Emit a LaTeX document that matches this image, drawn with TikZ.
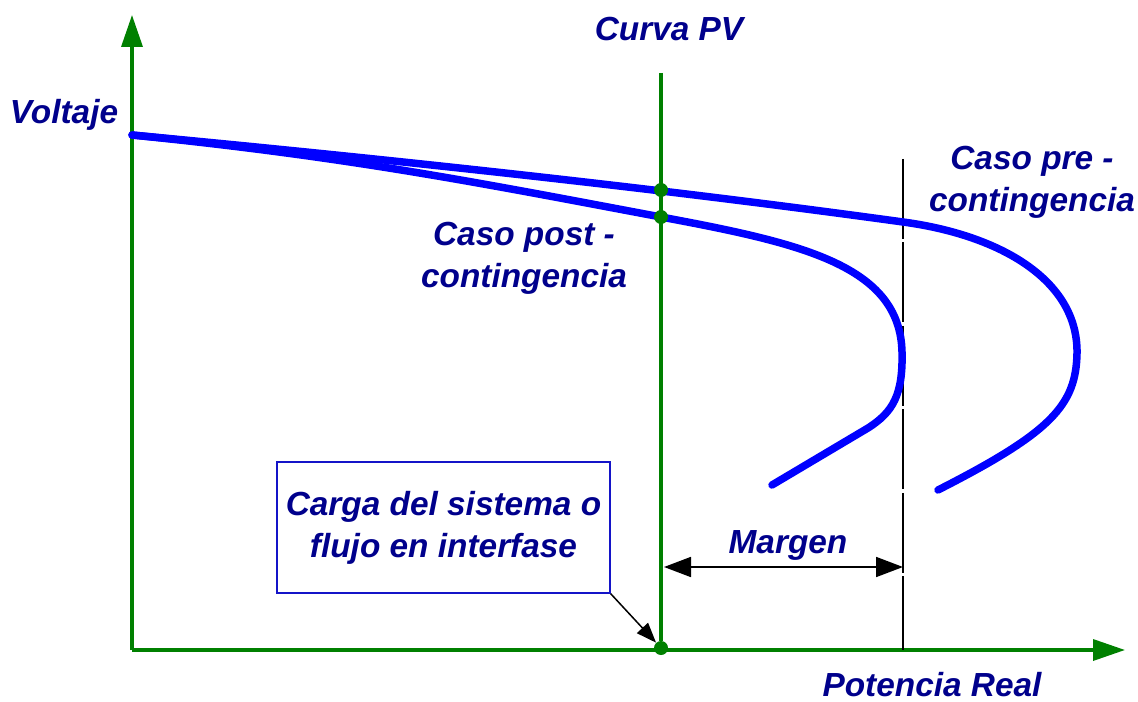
\documentclass[tikz,border=0pt]{standalone}
\usepackage{fontspec}
\setmainfont{Liberation Sans}
\usepackage{tikz}
\usetikzlibrary{arrows.meta}
\usetikzlibrary{positioning}
\definecolor{axisgreen}{RGB}{0,128,0}
\definecolor{curveblue}{RGB}{0,0,255}
\definecolor{textblue}{RGB}{0,0,140}
\definecolor{boxblue}{RGB}{20,20,200}
\tikzstyle{tag} = [font=\bfseries\itshape\fontsize{19}{24}\selectfont, text=textblue, align=center, inner sep=0pt]
\tikzstyle{axis} = [axisgreen, line width=0.07cm, -{Triangle[length=0.64cm,width=0.42cm]}]
\tikzstyle{pvline} = [axisgreen, line width=0.07cm]
\tikzstyle{curve} = [curveblue, line width=0.15cm, line cap=round]
\tikzstyle{dot} = [circle, fill=axisgreen, inner sep=0pt, minimum size=0.28cm]
\tikzstyle{limit} = [black, line width=0.035cm, dash pattern=on 1.6cm off 0.07cm]
\tikzstyle{dim} = [black, line width=0.035cm, {Triangle[length=0.54cm,width=0.4cm]}-{Triangle[length=0.54cm,width=0.4cm]}]
\tikzstyle{callout} = [black, line width=0.03cm, -{Triangle[length=0.4cm,width=0.3cm]}]
\tikzstyle{note} = [tag, draw=boxblue, line width=0.03cm, minimum width=6.66cm, minimum height=2.62cm]

\begin{document}
\begin{tikzpicture}[x=0.02cm, y=-0.02cm]
	\useasboundingbox (0,0) rectangle (1138,702);
	% ejes
	\coordinate (O) at (132,650);
	\coordinate (Ytop) at (132,15);
	\coordinate (Xend) at (1125,650);
	\draw [axis] (O) -- (Ytop);
	\draw [axis] (O) -- (Xend);
	% linea de carga y limite
	\coordinate (PVtop) at (661,73);
	\node (Pload) [dot] at (661,648) {};
	\draw [pvline] (PVtop) -- (Pload);
	\coordinate (Ltop) at (903,159);
	\coordinate (Lbot) at (903,650);
	\draw [limit] (Ltop) -- (Lbot);
	% curvas PV
	\draw [curve] (132,135) .. controls (450,165) and (700,194) .. (903,222)
		.. controls (1000,235) and (1078,280) .. (1077,353)
		.. controls (1076,405) and (1052,432) .. (938,490);
	\draw [curve] (132,135) .. controls (350,157) and (480,183) .. (661,217)
		.. controls (800,243) and (900,265) .. (902,352)
		.. controls (903,395) and (893,412) .. (868,428) -- (772,485);
	\node (Vpre) [dot] at (661,190) {};
	\node (Vpost) [dot] at (661,217) {};
	% textos
	\node (titulo) [tag] at (669,29) {Curva PV};
	\node (volt) [tag] at (64,115) {Voltaje};
	\node (pre) [tag] at (1032,182) {Caso pre -\\contingencia};
	\node (post) [tag] at (524,258) {Caso post -\\contingencia};
	\node (pot) [tag] at (932,685) {Potencia Real};
	\node (carga) [note] at (443.5,527.5) {Carga del sistema o\\flujo en interfase};
	\draw [callout] (carga.south east) -- (Pload);
	% margen
	\coordinate (Ml) at (664,567);
	\coordinate (Mr) at (903,567);
	\draw [dim] (Ml) -- (Mr);
	\node (marg) [tag] at (788,545) {Margen};
\end{tikzpicture}
\end{document}
